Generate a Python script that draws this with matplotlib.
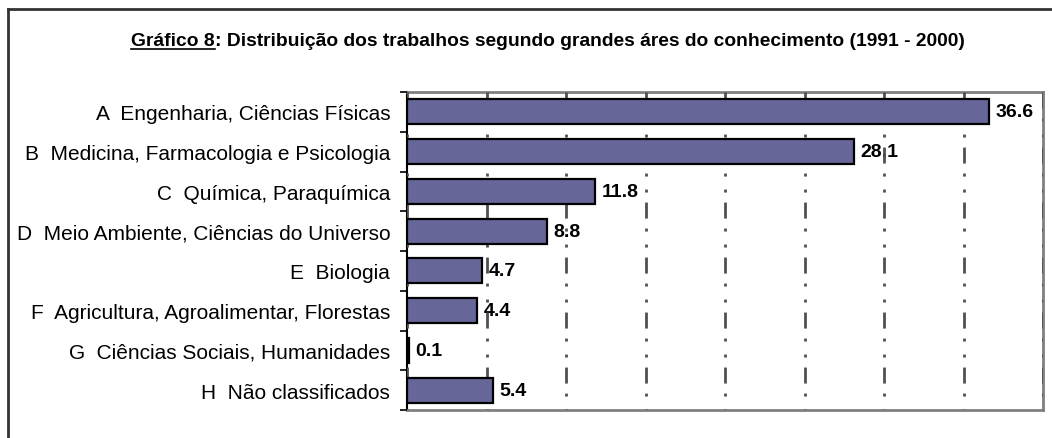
import matplotlib
matplotlib.use("Agg")
import matplotlib.pyplot as plt
from matplotlib import font_manager
from matplotlib.lines import Line2D
import numpy as np

categories = [
    "A  Engenharia, Ciências Físicas",
    "B  Medicina, Farmacologia e Psicologia",
    "C  Química, Paraquímica",
    "D  Meio Ambiente, Ciências do Universo",
    "E  Biologia",
    "F  Agricultura, Agroalimentar, Florestas",
    "G  Ciências Sociais, Humanidades",
    "H  Não classificados",
]
values = [36.6, 28.1, 11.8, 8.8, 4.7, 4.4, 0.1, 5.4]

title_a = "Gráfico 8"
title_b = ": Distribuição dos trabalhos segundo grandes áres do conhecimento (1991 - 2000)"

names = {f.name for f in font_manager.fontManager.ttflist}
narrow = "Liberation Sans Narrow" if "Liberation Sans Narrow" in names else "Liberation Sans"
plt.rcParams["font.family"] = ["Liberation Sans", "DejaVu Sans"]

fig = plt.figure(figsize=(10.52, 4.39), dpi=100)
ax = fig.add_axes([407 / 1052, 28 / 439, 636 / 1052, 318 / 439])

y = np.arange(len(categories))
ax.barh(y, values, height=0.63, color="#666699", edgecolor="black", linewidth=1.6, zorder=3)

for yi, v in zip(y, values):
    ax.annotate(f"{v:.1f}", (v, yi), xytext=(5, 0), textcoords="offset points",
                va="center", ha="left", fontsize=14, fontweight="bold", zorder=2)

ax.set_xlim(0, 40)
ax.set_ylim(len(categories) - 0.5, -0.5)
ax.set_xticks(np.arange(0, 41, 5))
ax.tick_params(axis="x", length=0, labelbottom=False)
ax.set_yticks(y)
ax.set_yticklabels(categories, fontsize=15)
ax.set_yticks(np.arange(-0.5, len(categories), 1), minor=True)
ax.tick_params(axis="y", which="major", length=0, pad=12)
ax.tick_params(axis="y", which="minor", length=5, width=1.2, color="black")

# long dash, dot, dot (px * 0.72 / lw)
ax.set_axisbelow(False)
ax.xaxis.grid(True, color="#505050", linewidth=2,
              linestyle=(10.1, (5.76, 3.6, 1.08, 4.68, 1.08, 3.6)))

for s in ["top", "right", "bottom"]:
    ax.spines[s].set_color("#808080")
    ax.spines[s].set_linewidth(2)
ax.spines["left"].set_color("black")
ax.spines["left"].set_linewidth(1.5)

# title with underlined first part
fig.canvas.draw()
r = fig.canvas.get_renderer()
ty = 1 - 42 / 439
fs = 13.9
t1 = fig.text(0, ty, title_a, family=[narrow, "DejaVu Sans"], fontweight="bold", fontsize=fs, va="center")
t2 = fig.text(0, ty, title_b, family=[narrow, "DejaVu Sans"], fontweight="bold", fontsize=fs, va="center")
w1 = t1.get_window_extent(r).width / fig.bbox.width
w2 = t2.get_window_extent(r).width / fig.bbox.width
x0 = 548 / 1052 - (w1 + w2) / 2
t1.set_x(x0)
t2.set_x(x0 + w1)
bb = t1.get_window_extent(r)
uy = (bb.y0 + 1) / fig.bbox.height
fig.add_artist(Line2D([x0, x0 + w1], [uy, uy], color="black", linewidth=1.2))

# outer chart border (left and top)
fig.add_artist(Line2D([8 / 1052, 8 / 1052], [0, 1 - 10 / 439], color="#333333", linewidth=2))
fig.add_artist(Line2D([8 / 1052, 1], [1 - 10 / 439, 1 - 10 / 439], color="#333333", linewidth=2))

fig.savefig("out.png", dpi=100)
